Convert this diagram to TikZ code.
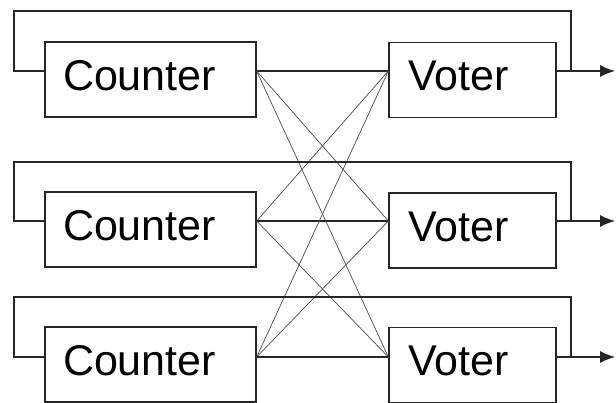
\documentclass[tikz,border=0pt]{standalone}
\usepackage{fontspec}
\setmainfont{Liberation Sans}
\usetikzlibrary{calc,arrows.meta}
\tikzset{
  box/.style={draw=black!85, line width=1.3pt, minimum height=75pt, inner ysep=0pt,
              text depth=8pt, align=left, font=\fontsize{43}{46}\selectfont},
  cbox/.style={box, inner xsep=18pt, text width=175pt},
  vbox/.style={box, inner xsep=19pt, text width=129pt},
  wire/.style={line width=1.3pt, draw=black!85},
  cross/.style={line width=0.7pt, draw=black!70},
  outarrow/.style={wire, -{Latex[length=15pt,width=12pt]}},
}
\begin{document}
\begin{tikzpicture}[x=1pt,y=-1pt]
\useasboundingbox (0,0) rectangle (616,403);
\fill[white] (0,0) rectangle (616,403);
% boxes
\node[cbox] (c1) at (150.5,79.5) {Counter};
\node[cbox] (c2) at (150.5,229.5) {Counter};
\node[cbox] (c3) at (150.5,364.5) {Counter};
\node[vbox] (v1) at (472.5,80) {Voter};
\node[vbox] (v2) at (472.5,230.5) {Voter};
\node[vbox] (v3) at (472.5,365) {Voter};
% loop corners and outputs
\coordinate (t1) at (14,11);   \coordinate (r1) at (571,71);  \coordinate (o1) at (615,71);
\coordinate (t2) at (14,162);  \coordinate (r2) at (571,221); \coordinate (o2) at (615,221);
\coordinate (t3) at (14,297);  \coordinate (r3) at (571,357); \coordinate (o3) at (615,357);
% connection points on the box edges, at the row line
\foreach \i in {1,2,3}{
  \coordinate (ci\i) at (c\i.west |- r\i);
  \coordinate (co\i) at (c\i.east |- r\i);
  \coordinate (vi\i) at (v\i.west |- r\i);
  \coordinate (vo\i) at (v\i.east |- r\i);
}
% cross connections
\foreach \i in {1,2,3}{
  \foreach \j in {1,2,3}{
    \ifnum\i=\j\relax
      \draw[wire] (co\i) -- (vi\j);
    \else
      \draw[cross] (co\i) -- (vi\j);
    \fi
  }
}
% feedback loops and outputs
\foreach \i in {1,2,3}{
  \draw[wire] (ci\i) -| (t\i) -| (r\i);
  \draw[outarrow] (vo\i) -- (o\i);
}
\end{tikzpicture}
\end{document}
